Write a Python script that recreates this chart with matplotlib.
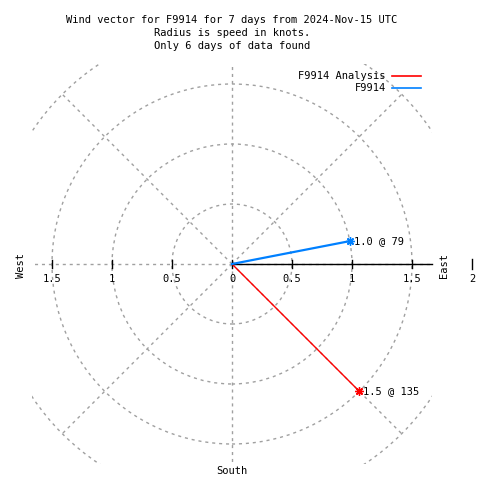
import numpy as np
import matplotlib
matplotlib.use("Agg")
import matplotlib.pyplot as plt
from matplotlib.patches import Circle, Rectangle

# ---- data ----
series_names = ["F9914 Analysis", "F9914"]
speeds = [1.5, 1.0]            # knots
directions = [135, 79]         # degrees (compass, from north clockwise)
series_colors = ["#ff0000", "#0080ff"]
series_widths = [1.0, 1.6]
point_labels = ["1.5 @ 135", "1.0 @ 79"]

grid_radii = [0.5, 1.0, 1.5, 2.0]
grid_angles = [0, 45, 90, 135, 180, 225, 270, 315]
right_ticks = [0, 0.5, 1, 1.5]
right_tick_labels = ["0", "0.5", "1", "1.5"]
left_ticks = [0.5, 1, 1.5]
left_tick_labels = ["0.5", "1", "1.5"]
rmax = 1.6667

title_lines = ["Wind vector for F9914 for 7 days from 2024-Nov-15 UTC",
               "Radius is speed in knots.",
               "Only 6 days of data found"]

# ---- figure ----
W = H = 480
CX, CY, SC = 232, 264, 120.0
fig = plt.figure(figsize=(4.8, 4.8), dpi=100)
ax = fig.add_axes([0, 0, 1, 1])
ax.set_xlim(-CX / SC, (W - CX) / SC)
ax.set_ylim(-(H - CY) / SC, CY / SC)
ax.axis("off")

def P(px, py):
    return ((px - CX) / SC, (CY - py) / SC)

FONT = dict(family="DejaVu Sans Mono", fontsize=7.5, color="black")
grid_kw = dict(color="#a0a0a0", lw=1.0, linestyle=(0, (2.2, 2.8)))

clip = Rectangle((-rmax, -rmax), 2 * rmax, 2 * rmax, transform=ax.transData,
                 fill=False, visible=False)
ax.add_patch(clip)

for r in grid_radii:
    c = Circle((0, 0), r, fill=False, **grid_kw)
    ax.add_patch(c)
    c.set_clip_path(clip)

for a in grid_angles:
    t = np.deg2rad(a)
    ln, = ax.plot([0, 2 * np.cos(t)], [0, 2 * np.sin(t)], **grid_kw)
    ln.set_clip_path(clip)

# x axis (solid on the east side)
ax.plot([0, rmax], [0, 0], color="black", lw=1.0)
tk = 4 / SC
for v in right_ticks:
    ax.plot([v, v], [-tk, tk], color="black", lw=1.0)
for v in left_ticks:
    ax.plot([-v, -v], [-tk, tk], color="black", lw=1.0)
ax.plot([2, 2], [-5 / SC, 5 / SC], color="black", lw=1.0)

ty = P(0, 279)[1]
for v, s in zip(right_ticks, right_tick_labels):
    ax.text(v, ty, s, ha="center", va="center", **FONT)
for v, s in zip(left_ticks, left_tick_labels):
    ax.text(-v, ty, s, ha="center", va="center", **FONT)
ax.text(2, ty, "2", ha="center", va="center", **FONT)

ax.text(*P(444, 265), "East", rotation=90, ha="center", va="center", **FONT)
ax.text(*P(21, 265), "West", rotation=90, ha="center", va="center", **FONT)
ax.text(*P(232, 471), "South", ha="center", va="center", **FONT)

# vectors
for name, s, d, col, lw, lab in zip(series_names, speeds, directions,
                                    series_colors, series_widths, point_labels):
    t = np.deg2rad(d)
    x, y = s * np.sin(t), s * np.cos(t)
    ax.plot([0, x], [0, y], color=col, lw=lw)
    ax.plot([x], [y], marker=(8, 2, 0), color=col, ms=6, mew=1.0)
    ax.text(x + 4 / SC, y, lab, ha="left", va="center", **FONT)

# legend
leg_y = [76, 88]
for i, (name, col, lw) in enumerate(zip(series_names, series_colors, series_widths)):
    yy = leg_y[i]
    ax.text(*P(386, yy), name, ha="right", va="center", **FONT)
    ax.plot([P(392, 0)[0], P(421, 0)[0]], [P(0, yy)[1]] * 2, color=col, lw=1.2)

# title
for i, line in enumerate(title_lines):
    ax.text(*P(232, 20 + 13 * i), line, ha="center", va="center", **FONT)

fig.savefig("out.png", dpi=100)
